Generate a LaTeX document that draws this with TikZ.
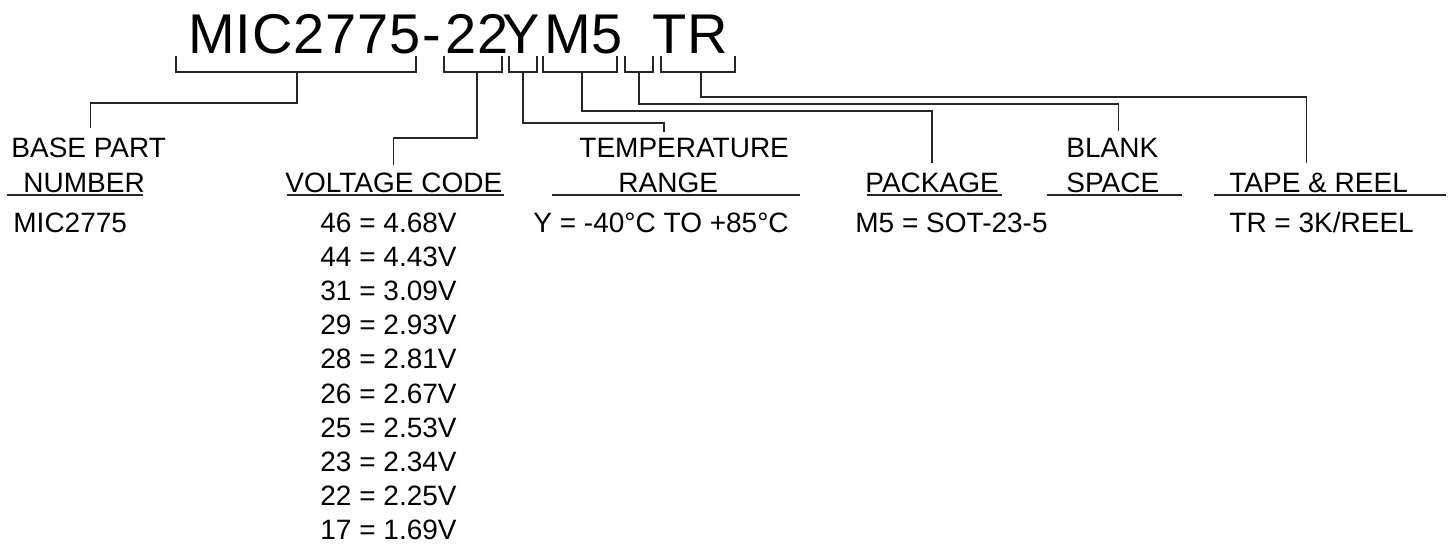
\documentclass[tikz,border=0pt]{standalone}
\usepackage{fontspec}
\setmainfont{Liberation Sans}
\newfontfamily\partfont[LetterSpace=1.5]{Liberation Sans}
\usetikzlibrary{calc}
\tikzset{
  partcode/.style={anchor=base west,inner sep=0pt,font=\partfont\fontsize{28}{30}\selectfont},
  lbl/.style={anchor=base west,inner sep=0pt,font=\fontsize{14}{16}\selectfont},
  bracket/.style={line width=0.9pt,black!85},
  leader/.style={line width=0.7pt,black!85},
  uline/.style={line width=0.9pt,black!85}
}
\begin{document}
\begin{tikzpicture}[x=0.5pt,y=-0.5pt]
   \useasboundingbox (0,0) rectangle (1450,543);
   % part number, piece by piece
   \foreach \nm/\px/\txt in {Base/188/MIC2775, Dash/422/-, Volt/445/22, Temp/502/Y, Pack/544/M5, Tape/652/TR}
      \node[partcode] (t\nm) at (\px,53) {\txt};
   % brackets under the part number
   \foreach \nm/\l/\r/\s in {Base/176/416/297, Volt/444/502/477, Temp/509/537/523, Pack/543/617/582, Blank/625/653/639, Tape/661/735/701}{
      \draw[bracket] (\l,56) |- (\r,72) -- (\r,56);
      \coordinate (k\nm) at (\s,72);
   }
   % headings
   \node[lbl] (lBase) at (11,157) {BASE PART};
   \node[lbl] (lBase2) at (23,192) {NUMBER};
   \node[lbl] (lVolt) at (285,192) {VOLTAGE CODE};
   \node[lbl] (lTemp) at (579,157) {TEMPERATURE};
   \node[lbl] (lTemp2) at (618,192) {RANGE};
   \node[lbl] (lPack) at (865,192) {PACKAGE};
   \node[lbl] (lBlank) at (1066,157) {BLANK};
   \node[lbl] (lBlank2) at (1066,192) {SPACE};
   \node[lbl] (lTape) at (1229,192) {TAPE \& REEL};
   \draw[uline] (7,195) -- (143,195);
   \draw[uline] (287,195) -- (504,195);
   \draw[uline] (552,195) -- (800,195);
   \draw[uline] (867,195) -- (1002,195);
   \draw[uline] (1047,195) -- (1182,195);
   \draw[uline] (1214,195) -- (1446,195);
   % leaders from brackets to headings
   \draw[leader] (kBase) -- ++(0,31) -| ([xshift=1pt,yshift=4.5pt]lBase.north);
   \draw[leader] (kVolt) -- ++(0,66) -| ([yshift=3.5pt]lVolt.north);
   \draw[leader] (kTemp) -- ++(0,51) -| ([xshift=-10pt,yshift=2.5pt]lTemp.north);
   \draw[leader] (kPack) -- ++(0,39) -| ([yshift=4.5pt]lPack.north);
   \draw[leader] (kBlank) -- ++(0,32) -| ([xshift=3pt,yshift=3pt]lBlank.north);
   \draw[leader] (kTape) -- ++(0,25) -| ([xshift=-6pt,yshift=4.5pt]lTape.north);
   % values
   \node[lbl] (vBase) at (13,232) {MIC2775};
   \foreach \vcode/\vval [count=\i from 0] in {46/4.68, 44/4.43, 31/3.09, 29/2.93, 28/2.81, 26/2.67, 25/2.53, 23/2.34, 22/2.25, 17/1.69}
      \node[lbl] (v\vcode) at (320,{232+34.2*\i}) {\vcode{} = \vval V};
   \node[lbl] (vTemp) at (533,232) {Y = -40°C TO +85°C};
   \node[lbl] (vPack) at (855,232) {M5 = SOT-23-5};
   \node[lbl] (vTape) at (1229,232) {TR = 3K/REEL};
\end{tikzpicture}
\end{document}
